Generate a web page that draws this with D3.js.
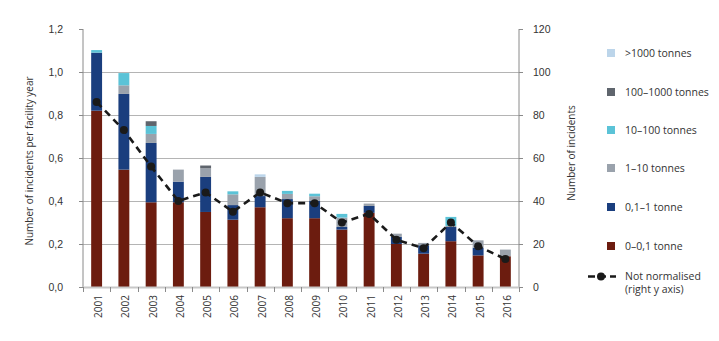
<!DOCTYPE html>
<html>
<head>
<meta charset="utf-8">
<script src="https://cdn.jsdelivr.net/npm/d3@7"></script>
<style>
  html, body { margin: 0; padding: 0; background: #fff; }
  svg { display: block; font-family: "Open Sans", "Noto Sans", sans-serif; }
</style>
</head>
<body>
<svg id="chart" width="719" height="341"></svg>
<script>
// Years on the x axis
const years = ["2001","2002","2003","2004","2005","2006","2007","2008","2009","2010","2011","2012","2013","2014","2015","2016"];

// Incidents per facility year, split by released amount (stacked bottom to top)
const tonne0to01   = [0.82, 0.546, 0.394, 0.394, 0.349, 0.313, 0.371, 0.320, 0.320, 0.267, 0.345, 0.200, 0.155, 0.213, 0.147, 0.143];
const tonne01to1   = [0.27, 0.352, 0.276, 0.096, 0.163, 0.068, 0.052, 0.089, 0.080, 0.012, 0.032, 0.033, 0.039, 0.066, 0.036, 0.000];
const tonnes1to10  = [0.00, 0.040, 0.042, 0.056, 0.040, 0.050, 0.089, 0.024, 0.022, 0.044, 0.011, 0.015, 0.011, 0.005, 0.034, 0.031];
const tonnes10to100 = [0.012, 0.057, 0.037, 0.000, 0.000, 0.014, 0.000, 0.014, 0.012, 0.017, 0.000, 0.000, 0.000, 0.042, 0.000, 0.000];
const tonnes100to1000 = [0, 0, 0.022, 0, 0.013, 0, 0, 0, 0, 0, 0, 0, 0, 0, 0, 0];
const tonnesOver1000 = [0, 0, 0, 0, 0, 0, 0.012, 0, 0, 0, 0, 0, 0, 0, 0, 0];

// Absolute number of incidents (right axis)
const notNormalised = [86, 73, 56, 40, 44, 35, 44, 39, 39, 30, 34, 22, 18, 30, 19, 13];

const leftTicks = [0, 0.2, 0.4, 0.6, 0.8, 1.0, 1.2];
const rightTicks = [0, 20, 40, 60, 80, 100, 120];

const seriesNames = ["0–0,1 tonne", "0,1–1 tonne", "1–10 tonnes", "10–100 tonnes", "100–1000 tonnes", ">1000 tonnes"];
const seriesValues = [tonne0to01, tonne01to1, tonnes1to10, tonnes10to100, tonnes100to1000, tonnesOver1000];
const seriesColors = ["#6c1c0f", "#1a3e7e", "#9aa2ac", "#5bc3d7", "#5f656d", "#bcd5ea"];

const rows = years.map((y, i) => {
  const r = { year: y };
  seriesNames.forEach((n, k) => r[n] = seriesValues[k][i]);
  return r;
});

const svg = d3.select("#chart");
const x0 = 83, x1 = 519, yBottom = 287, yTop = 29;

const x = d3.scaleBand().domain(years).range([x0, x1]).padding(0);
const yL = d3.scaleLinear().domain([0, 1.2]).range([yBottom, yTop]);
const yR = d3.scaleLinear().domain([0, 120]).range([yBottom, yTop]);
const fmt = d3.format(".1f");
const commaFmt = v => fmt(v).replace(".", ",");

// Horizontal gridlines
svg.append("g")
  .selectAll("line")
  .data(leftTicks.filter(t => t > 0 && t < 1.2))
  .join("line")
  .attr("x1", x0).attr("x2", x1)
  .attr("y1", d => Math.round(yL(d)) + 0.5).attr("y2", d => Math.round(yL(d)) + 0.5)
  .attr("stroke", "#b4b4b4").attr("stroke-width", 1);

// Stacked bars
const stack = d3.stack().keys(seriesNames)(rows);
const barW = x.bandwidth() * 0.4;
svg.append("g")
  .selectAll("g")
  .data(stack)
  .join("g")
  .attr("fill", (d, i) => seriesColors[i])
  .selectAll("rect")
  .data(d => d)
  .join("rect")
  .attr("x", d => x(d.data.year) + (x.bandwidth() - barW) / 2)
  .attr("width", barW)
  .attr("y", d => yL(d[1]))
  .attr("height", d => Math.max(0, yL(d[0]) - yL(d[1])));

// Left axis
const leftAxis = svg.append("g")
  .attr("transform", `translate(${x0},0)`)
  .call(d3.axisLeft(yL).tickValues(leftTicks).tickFormat(commaFmt).tickSize(4).tickPadding(16));
leftAxis.select(".domain").attr("stroke", "#8a8a8a").attr("d", `M0,${yTop}V${yBottom}`);
leftAxis.selectAll(".tick line").attr("stroke", "#8a8a8a");
leftAxis.selectAll("text").attr("fill", "#333").style("font-size", "10.5px");

// Right axis
const rightAxis = svg.append("g")
  .attr("transform", `translate(${x1},0)`)
  .call(d3.axisRight(yR).tickValues(rightTicks).tickSize(4).tickPadding(10));
rightAxis.select(".domain").attr("stroke", "#8a8a8a").attr("d", `M0,${yTop}V${yBottom}`);
rightAxis.selectAll(".tick line").attr("stroke", "#8a8a8a");
rightAxis.selectAll("text").attr("fill", "#333").style("font-size", "10.5px");

// Bottom axis with ticks at category boundaries
const xg = svg.append("g");
xg.append("line")
  .attr("x1", x0).attr("x2", x1).attr("y1", yBottom + 0.5).attr("y2", yBottom + 0.5)
  .attr("stroke", "#c8c8c8").attr("stroke-width", 2);
const bounds = years.map(y => x(y)).concat([x1]);
xg.selectAll("line.b")
  .data(bounds)
  .join("line")
  .attr("class", "b")
  .attr("x1", d => Math.round(d) + 0.5).attr("x2", d => Math.round(d) + 0.5)
  .attr("y1", yBottom).attr("y2", yBottom + 5)
  .attr("stroke", "#8a8a8a");
xg.selectAll("text")
  .data(years)
  .join("text")
  .attr("transform", d => `translate(${x(d) + x.bandwidth() / 2 + 5.5},${yBottom + 8}) rotate(-90)`)
  .attr("text-anchor", "end")
  .attr("fill", "#333")
  .style("font-size", "10px")
  .text(d => d);

// Not normalised line (right axis)
const line = d3.line()
  .x((d, i) => x(years[i]) + x.bandwidth() / 2)
  .y(d => yR(d));
svg.append("path")
  .datum(notNormalised)
  .attr("d", line)
  .attr("fill", "none")
  .attr("stroke", "#1a1a1a")
  .attr("stroke-width", 2.6)
  .attr("stroke-dasharray", "7,5");
svg.append("g")
  .selectAll("circle")
  .data(notNormalised)
  .join("circle")
  .attr("cx", (d, i) => x(years[i]) + x.bandwidth() / 2)
  .attr("cy", d => yR(d))
  .attr("r", 4)
  .attr("fill", "#1a1a1a");

// Axis titles
svg.append("text")
  .attr("transform", `translate(33,161) rotate(-90)`)
  .attr("text-anchor", "middle")
  .attr("fill", "#333")
  .style("font-size", "10px")
  .text("Number of incidents per facility year");
svg.append("text")
  .attr("transform", `translate(575,153) rotate(-90)`)
  .attr("text-anchor", "middle")
  .attr("fill", "#333")
  .style("font-size", "10px")
  .text("Number of incidents");

// Legend
const legendOrder = [5, 4, 3, 2, 1, 0];
const legendY = [53, 92, 130, 168, 207, 246];
const lg = svg.append("g");
legendOrder.forEach((k, j) => {
  lg.append("rect")
    .attr("x", 607).attr("y", legendY[j] - 4)
    .attr("width", 8).attr("height", 8)
    .attr("fill", seriesColors[k]);
  lg.append("text")
    .attr("x", 625).attr("y", legendY[j] + 4)
    .attr("fill", "#333")
    .style("font-size", "10.5px")
    .text(seriesNames[k]);
});
lg.append("line")
  .attr("x1", 588).attr("x2", 616).attr("y1", 276.5).attr("y2", 276.5)
  .attr("stroke", "#1a1a1a").attr("stroke-width", 2.6).attr("stroke-dasharray", "7,4");
lg.append("circle").attr("cx", 601).attr("cy", 276.5).attr("r", 4).attr("fill", "#1a1a1a");
lg.append("text")
  .attr("x", 625).attr("y", 280)
  .attr("fill", "#333").style("font-size", "10.5px")
  .text("Not normalised");
lg.append("text")
  .attr("x", 625).attr("y", 293)
  .attr("fill", "#333").style("font-size", "10.5px")
  .text("(right y axis)");
</script>
</body>
</html>
